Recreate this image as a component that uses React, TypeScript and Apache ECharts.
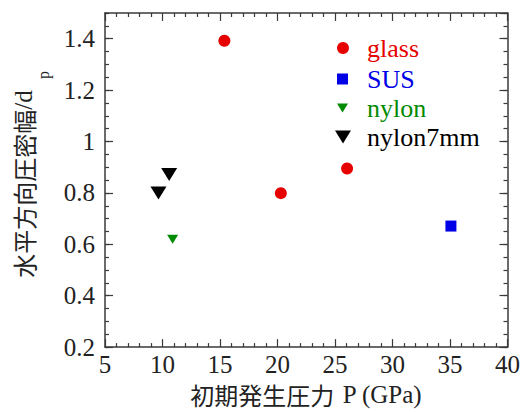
import React, { useEffect, useRef } from "react";
import * as echarts from "echarts";

const seriesNames = ["glass", "SUS", "nylon", "nylon7mm"];
const seriesColors = ["#e60000", "#0000e6", "#008a00", "#000000"];
const glassData = [
  [15.38, 1.392],
  [20.29, 0.799],
  [26.05, 0.895],
];
const susData = [[35.08, 0.671]];
const nylonData = [[10.88, 0.62]];
const nylon7Data = [
  [9.65, 0.8],
  [10.58, 0.872],
];
const xTicks = { min: 5, max: 40, interval: 5 };
const yTicks = { min: 0.2, max: 1.5, interval: 0.2, minor: 0.05 };

const SERIF = "Liberation Serif";
const CJK = "Noto Sans CJK JP";
const AXIS_COLOR = "#3a3a3a";
const TRI = "path://M0,0L16,0L8,13Z";

export default function App() {
  const ref = useRef<HTMLDivElement>(null);
  useEffect(() => {
    if (!ref.current) return;
    const chart = echarts.init(ref.current, null, { renderer: "svg" });
    const axisLine = { show: true, lineStyle: { color: AXIS_COLOR, width: 1.5 } };
    const majorTick = { show: true, inside: true, length: 8, lineStyle: { color: AXIS_COLOR, width: 1.2 } };
    const minorTickAxis = { show: true, inside: true, length: 4, lineStyle: { color: AXIS_COLOR, width: 1.2 } };
    const labelStyle = { fontFamily: SERIF, fontSize: 25, color: "#222" };

    const xBase = {
      type: "value",
      min: xTicks.min,
      max: xTicks.max,
      interval: xTicks.interval,
      splitLine: { show: false },
      axisLine,
      axisTick: majorTick,
      minorTick: { show: true, splitNumber: 5, length: 4, lineStyle: { color: AXIS_COLOR, width: 1.2 } },
    };
    const yBase = {
      type: "value",
      min: yTicks.min,
      max: yTicks.max,
      interval: yTicks.interval,
      splitLine: { show: false },
      axisLine,
      axisTick: majorTick,
    };
    const yMinor = {
      type: "value",
      min: yTicks.min,
      max: yTicks.max,
      interval: yTicks.minor,
      splitLine: { show: false },
      axisLine: { show: false },
      axisTick: minorTickAxis,
      axisLabel: { show: false },
    };

    const legendLayout = [
      { left: 337, top: 35, w: 12, h: 12, pad: 13 },
      { left: 337, top: 66, w: 11, h: 11, pad: 14 },
      { left: 337, top: 95, w: 11, h: 9, pad: 14 },
      { left: 335, top: 124, w: 16, h: 13, pad: 11 },
    ];

    chart.setOption({
      animation: false,
      backgroundColor: "#ffffff",
      grid: { left: 105, right: 13.5, top: 13, bottom: 61, containLabel: false },
      legend: seriesNames.map((name, i) => ({
        left: legendLayout[i].left,
        top: legendLayout[i].top,
        padding: 0,
        itemWidth: legendLayout[i].w,
        itemHeight: legendLayout[i].h,
        selectedMode: false,
        textStyle: {
          fontFamily: SERIF,
          fontSize: 26,
          color: seriesColors[i],
          padding: [0, 0, 0, legendLayout[i].pad],
        },
        data: [name],
      })),
      xAxis: [
        {
          ...xBase,
          position: "bottom",
          axisLabel: { ...labelStyle, margin: 5 },
          name: "{c|初期発生圧力}{s|P (GPa)}",
          nameLocation: "middle",
          nameGap: 34,
          nameTextStyle: {
            rich: {
              c: { fontFamily: CJK, fontSize: 24, color: "#222" },
              s: { fontFamily: SERIF, fontSize: 25, color: "#222", padding: [0, 0, 0, 8] },
            },
          },
        },
        { ...xBase, position: "top", axisLabel: { show: false } },
      ],
      yAxis: [
        {
          ...yBase,
          position: "left",
          axisLabel: { ...labelStyle, margin: 10, showMaxLabel: false },
        },
        { ...yBase, position: "right", axisLabel: { show: false } },
        { ...yMinor, position: "left" },
        { ...yMinor, position: "right" },
      ],
      graphic: [
        {
          type: "text",
          x: 23,
          y: 184,
          rotation: Math.PI / 2,
          style: {
            text: "{c|水平方向圧密幅}{s|/d}",
            align: "center",
            verticalAlign: "middle",
            rich: {
              c: { fontFamily: CJK, fontSize: 24, fill: "#222" },
              s: { fontFamily: SERIF, fontSize: 25, fill: "#222" },
            },
          },
        },
        {
          type: "text",
          x: 43,
          y: 75,
          rotation: Math.PI / 2,
          style: {
            text: "p",
            align: "center",
            verticalAlign: "middle",
            fontFamily: SERIF,
            fontSize: 16,
            fill: "#222",
          },
        },
      ],
      series: [
        {
          name: seriesNames[0],
          type: "scatter",
          data: glassData,
          symbol: "circle",
          symbolSize: 12,
          itemStyle: { color: seriesColors[0], opacity: 1 },
        },
        {
          name: seriesNames[1],
          type: "scatter",
          data: susData,
          symbol: "rect",
          symbolSize: 11,
          itemStyle: { color: seriesColors[1], opacity: 1 },
        },
        {
          name: seriesNames[2],
          type: "scatter",
          data: nylonData,
          symbol: TRI,
          symbolKeepAspect: false,
          symbolSize: [11, 9],
          itemStyle: { color: seriesColors[2], opacity: 1 },
        },
        {
          name: seriesNames[3],
          type: "scatter",
          data: nylon7Data,
          symbol: TRI,
          symbolKeepAspect: false,
          symbolSize: [16, 13],
          itemStyle: { color: seriesColors[3], opacity: 1 },
        },
      ],
    });
    return () => chart.dispose();
  }, []);
  return (
    <div
      ref={ref}
      style={{ position: "fixed", left: 0, top: 0, width: 523, height: 412, background: "#fff" }}
    />
  );
}
